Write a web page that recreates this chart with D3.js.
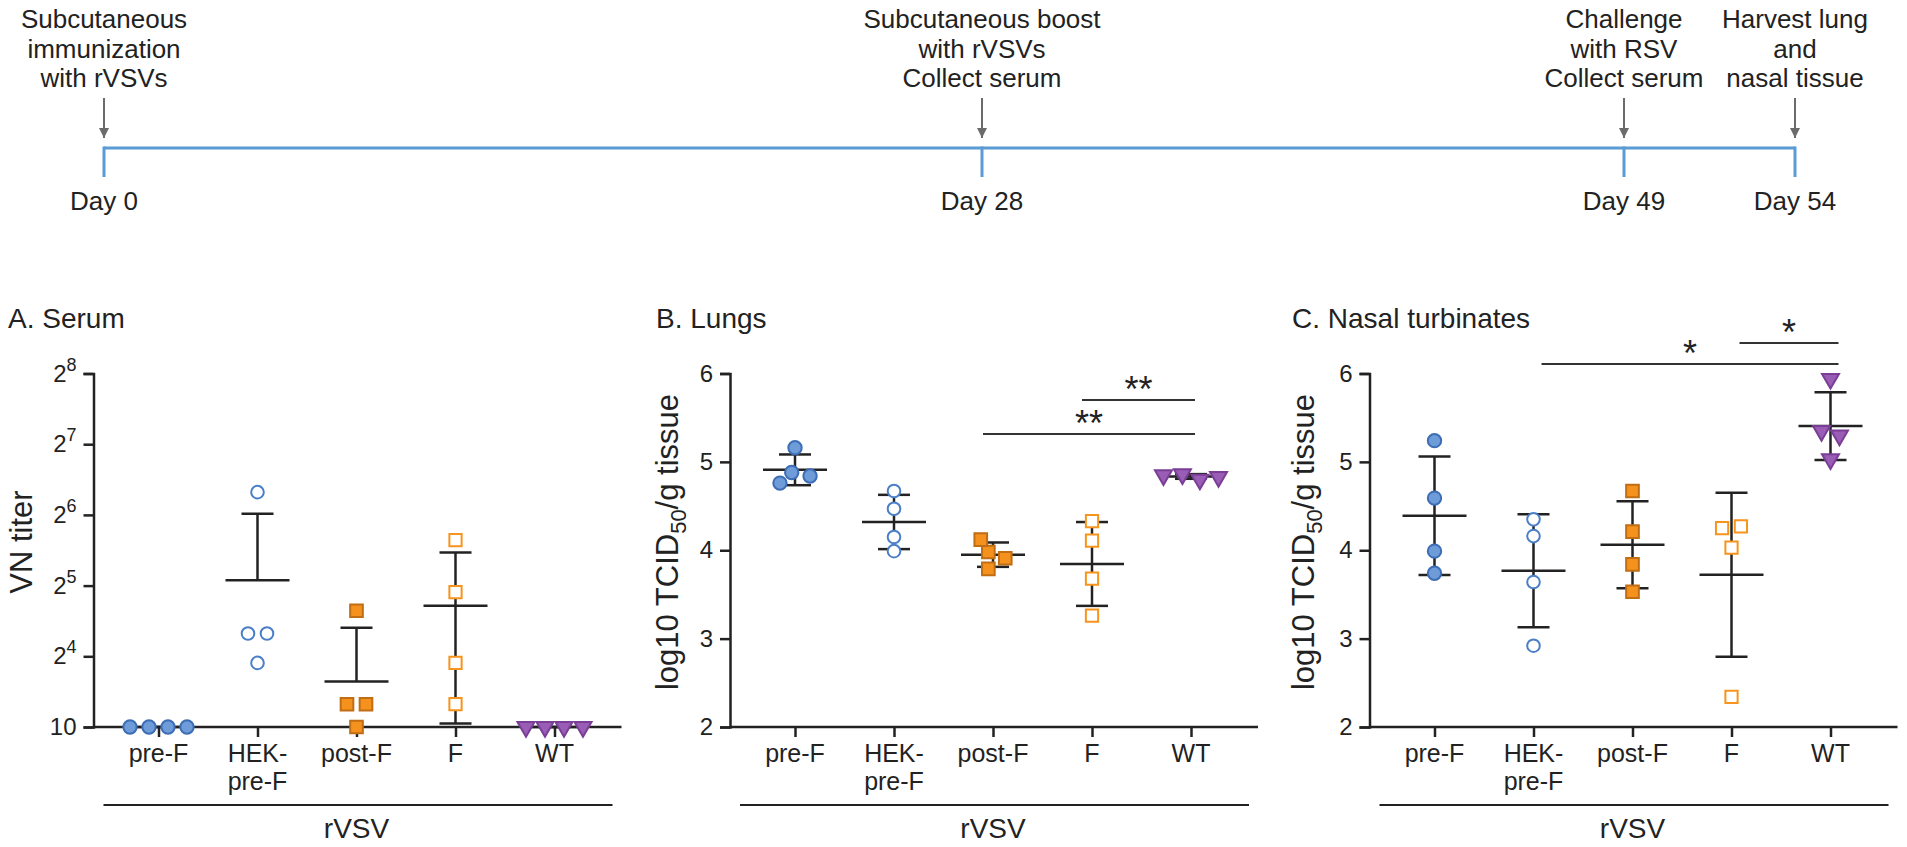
<!DOCTYPE html>
<html>
<head>
<meta charset="utf-8">
<script src="https://cdn.jsdelivr.net/npm/d3@7"></script>
<style>
  body { margin: 0; background: #fff; }
  svg text { font-family: "Liberation Sans", Arial, sans-serif; fill: #222; }
</style>
</head>
<body>
<div id="chart"></div>
<script>
/*
*    rVSV immunization / RSV challenge figure
*/

var W = 1907, H = 847;

// timeline
var days = [0, 28, 49, 54];
var dayLabels = ["Day 0", "Day 28", "Day 49", "Day 54"];
var events = [
    ["Subcutaneous", "immunization", "with rVSVs"],
    ["Subcutaneous boost", "with rVSVs", "Collect serum"],
    ["Challenge", "with RSV", "Collect serum"],
    ["Harvest lung", "and", "nasal tissue"]
];

// groups
var groups = ["pre-F", "HEK-pre-F", "post-F", "F", "WT"];
var groupLines = [["pre-F"], ["HEK-", "pre-F"], ["post-F"], ["F"], ["WT"]];

// A. serum VN titers (below detection = 5)
var serumTiters = [
    [5, 5, 5, 5],
    [80, 20, 20, 15],
    [25, 10, 10, 5],
    [50, 30, 15, 10],
    [5, 5, 5, 5]
];
var serumTicks = [8, 16, 32, 64, 128, 256];

// B. lungs, log10 TCID50/g
var lungValues = [
    [5.16, 4.88, 4.76, 4.84],
    [4.67, 4.47, 4.15, 3.99],
    [3.98, 4.12, 3.91, 3.79],
    [4.33, 4.11, 3.68, 3.26],
    [4.80, 4.86, 4.83, 4.85]
];
var lungSig = [
    { from: "F", to: "WT", label: "**" },
    { from: "post-F", to: "WT", label: "**" }
];

// C. nasal turbinates, log10 TCID50/g
var nasalValues = [
    [5.24, 4.59, 3.99, 3.74],
    [4.35, 4.16, 3.64, 2.92],
    [4.67, 4.21, 3.84, 3.53],
    [4.27, 4.25, 4.03, 2.34],
    [5.94, 5.30, 5.35, 5.03]
];
var nasalSig = [
    { from: "F", to: "WT", label: "*" },
    { from: "HEK-pre-F", to: "WT", label: "*" }
];
var tissueTicks = [2, 3, 4, 5, 6];

var markers = [
    { type: d3.symbolCircle, size: 140, fill: "#6d9cd9", stroke: "#3d6db5", rot: 0 },
    { type: d3.symbolCircle, size: 125, fill: "#fff", stroke: "#4a7fc8", rot: 0 },
    { type: d3.symbolSquare, size: 160, fill: "#f5921e", stroke: "#c06d14", rot: 0 },
    { type: d3.symbolSquare, size: 150, fill: "#fff", stroke: "#f7941d", rot: 0 },
    { type: d3.symbolTriangle, size: 125, fill: "#9a5db6", stroke: "#7a3e96", rot: 180 }
];

var svg = d3.select("#chart")
    .append("svg")
        .attr("width", W)
        .attr("height", H);

/* ---------- timeline ---------- */
var tx = d3.scaleLinear().domain(days).range([104, 982, 1624, 1795]);
var lineY = 148;

svg.append("defs").append("marker")
    .attr("id", "arrow")
    .attr("viewBox", "0 0 10 10")
    .attr("refX", 10).attr("refY", 5)
    .attr("markerWidth", 5).attr("markerHeight", 5)
    .attr("markerUnits", "strokeWidth")
    .attr("orient", "auto")
    .append("path")
        .attr("d", "M0,0L10,5L0,10z")
        .attr("fill", "#6b6b6b");

svg.append("line")
    .attr("x1", tx(days[0])).attr("x2", tx(days[days.length - 1]))
    .attr("y1", lineY).attr("y2", lineY)
    .attr("stroke", "#5b9bd5").attr("stroke-width", 3);

days.forEach(function(d, i){
    var x = tx(d);
    svg.append("line")
        .attr("x1", x).attr("x2", x)
        .attr("y1", lineY - 1.5).attr("y2", lineY + 29)
        .attr("stroke", "#5b9bd5").attr("stroke-width", 3);
    svg.append("line")
        .attr("x1", x).attr("x2", x)
        .attr("y1", 98).attr("y2", 138)
        .attr("stroke", "#6b6b6b").attr("stroke-width", 2)
        .attr("marker-end", "url(#arrow)");
    svg.append("text")
        .attr("x", x).attr("y", 210)
        .attr("text-anchor", "middle")
        .style("font-size", "26px")
        .text(dayLabels[i]);
    events[i].forEach(function(t, j){
        svg.append("text")
            .attr("x", x).attr("y", 28 + j * 29.5)
            .attr("text-anchor", "middle")
            .style("font-size", "26px")
            .text(t);
    });
});

/* ---------- scatter panels ---------- */
function swarm(ys, Dx, Dy){
    var placed = [];
    ys.forEach(function(y){
        var near = placed.filter(function(p){ return Math.abs(p.y - y) < Dy; });
        var cands = [0];
        near.forEach(function(p){
            var w = Dx * Math.sqrt(1 - Math.pow((p.y - y) / Dy, 2));
            cands.push(p.x - w, p.x + w);
        });
        var ok = cands.filter(function(c){
            return near.every(function(p){
                return Math.pow((c - p.x) / Dx, 2) + Math.pow((y - p.y) / Dy, 2) >= 0.999;
            });
        });
        function side(c){
            return placed.filter(function(p){ return c !== 0 && Math.sign(p.x) === Math.sign(c); }).length;
        }
        ok.sort(function(a, b){
            return (Math.round(Math.abs(a)) - Math.round(Math.abs(b))) || (side(a) - side(b)) || (a - b);
        });
        placed.push({ x: ok[0], y: y });
    });
    // centre each vertical cluster
    var idx = d3.range(placed.length).sort(function(a, b){ return placed[a].y - placed[b].y; });
    var cl = [];
    idx.forEach(function(k, n){
        if (n > 0 && placed[k].y - placed[idx[n - 1]].y < Dy) cl[cl.length - 1].push(k);
        else cl.push([k]);
    });
    cl.forEach(function(c){
        var xs = c.map(function(k){ return placed[k].x; });
        var mid = (d3.min(xs) + d3.max(xs)) / 2;
        c.forEach(function(k){ placed[k].x -= mid; });
    });
    return placed.map(function(p){ return p.x; });
}

function panel(opt){
    var g = svg.append("g");
    var left = opt.left, top = 373.5, bottom = 727;

    var x = d3.scalePoint().domain(groups).range([left + 65, left + 65 + 396]);
    var y = opt.y.range([bottom, top]);
    var yMin = y.domain()[0];

    // title
    g.append("text")
        .attr("x", opt.titleX).attr("y", 328)
        .style("font-size", "28px")
        .text(opt.title);

    // y axis
    var ya = g.append("g")
        .attr("transform", "translate(" + left + ",0)")
        .call(d3.axisLeft(y).tickValues(opt.ticks).tickSize(10).tickFormat(""));
    opt.ticks.forEach(function(t){
        opt.tickLabel(g.append("text")
            .attr("x", left - 17).attr("y", y(t) + 8)
            .attr("text-anchor", "end")
            .style("font-size", "24px"), t);
    });

    // x axis
    var xa = g.append("g")
        .attr("transform", "translate(0," + bottom + ")")
        .call(d3.axisBottom(x).tickSize(10).tickFormat(""));
    xa.select(".domain").attr("d", "M" + left + ",0H" + (left + 528));
    [ya, xa].forEach(function(a){
        a.selectAll("path, line").attr("stroke", "#222").attr("stroke-width", 2.5);
    });

    groups.forEach(function(gr, i){
        groupLines[i].forEach(function(t, j){
            g.append("text")
                .attr("x", x(gr)).attr("y", 762 + j * 28)
                .attr("text-anchor", "middle")
                .style("font-size", "25px")
                .text(t);
        });
    });

    // rVSV bracket
    g.append("line")
        .attr("x1", left + 10).attr("x2", left + 519)
        .attr("y1", 805).attr("y2", 805)
        .attr("stroke", "#222").attr("stroke-width", 2);
    g.append("text")
        .attr("x", x("post-F")).attr("y", 838)
        .attr("text-anchor", "middle")
        .style("font-size", "28px")
        .text("rVSV");

    // y label
    opt.yLabel(g.append("text")
        .attr("transform", "translate(" + (left - opt.labelOff) + ",542) rotate(-90)")
        .attr("text-anchor", "middle")
        .style("font-size", "31px"));

    // mean +/- SD (lower arm dropped when it falls below the axis)
    opt.data.forEach(function(vals, i){
        var cx = x(groups[i]);
        var m = d3.mean(vals), sd = d3.deviation(vals);
        var hasLow = m - sd >= yMin;
        var yM = y(m), yU = y(m + sd), yL = hasLow ? y(m - sd) : yM;
        var bars = g.append("g").attr("stroke", "#222").attr("stroke-width", 2.5);
        bars.append("line").attr("x1", cx).attr("x2", cx).attr("y1", yU).attr("y2", yL);
        bars.append("line").attr("x1", cx - 32).attr("x2", cx + 32).attr("y1", yM).attr("y2", yM);
        bars.append("line").attr("x1", cx - 16).attr("x2", cx + 16).attr("y1", yU).attr("y2", yU);
        if (hasLow)
            bars.append("line").attr("x1", cx - 16).attr("x2", cx + 16).attr("y1", yL).attr("y2", yL);
    });

    // points
    opt.data.forEach(function(vals, i){
        var mk = markers[i];
        var ys = vals.map(function(v){ return y(v); });
        var offs = swarm(ys, 19, 13.5);
        g.selectAll(null)
            .data(vals)
            .enter()
            .append("path")
            .attr("d", d3.symbol().type(mk.type).size(mk.size))
            .attr("transform", function(d, k){
                return "translate(" + (x(groups[i]) + offs[k]) + "," + ys[k] + ") rotate(" + mk.rot + ")";
            })
            .attr("fill", mk.fill)
            .attr("stroke", mk.stroke)
            .attr("stroke-width", 2);
    });

    // significance
    (opt.sig || []).forEach(function(s, k){
        var ly = opt.sigY[k];
        var x1 = x(s.from) + opt.sigPad[0], x2 = x(s.to) + opt.sigPad[1];
        g.append("line")
            .attr("x1", x1).attr("x2", x2)
            .attr("y1", ly).attr("y2", ly)
            .attr("stroke", "#333").attr("stroke-width", 2);
        g.append("text")
            .attr("x", (x1 + x2) / 2).attr("y", ly + 2)
            .attr("text-anchor", "middle")
            .style("font-size", "36px")
            .text(s.label);
    });
}

function supLabel(t, v){
    if (v === 8) { t.text("10"); return; }
    t.append("tspan").text("2");
    t.append("tspan").attr("dy", -11).style("font-size", "18px").text(Math.log2(v));
}
function plainLabel(t, v){ t.text(v); }
function tcidLabel(t){
    t.append("tspan").text("log10 TCID");
    t.append("tspan").attr("dy", 8).style("font-size", "22px").text("50");
    t.append("tspan").attr("dy", -8).text("/g tissue");
}

panel({
    left: 93.5, titleX: 8, title: "A. Serum",
    y: d3.scaleLog().base(2).domain([8, 256]).clamp(true),
    ticks: serumTicks, tickLabel: supLabel,
    yLabel: function(t){ t.text("VN titer"); }, labelOff: 62,
    data: serumTiters
});

panel({
    left: 730, titleX: 656, title: "B. Lungs",
    y: d3.scaleLinear().domain([2, 6]),
    ticks: tissueTicks, tickLabel: plainLabel,
    yLabel: tcidLabel, labelOff: 52,
    data: lungValues, sig: lungSig, sigY: [400, 434], sigPad: [-10, 4]
});

panel({
    left: 1369.5, titleX: 1292, title: "C. Nasal turbinates",
    y: d3.scaleLinear().domain([2, 6]),
    ticks: tissueTicks, tickLabel: plainLabel,
    yLabel: tcidLabel, labelOff: 56,
    data: nasalValues, sig: nasalSig, sigY: [343, 364], sigPad: [8, 8]
});
</script>
</body>
</html>
